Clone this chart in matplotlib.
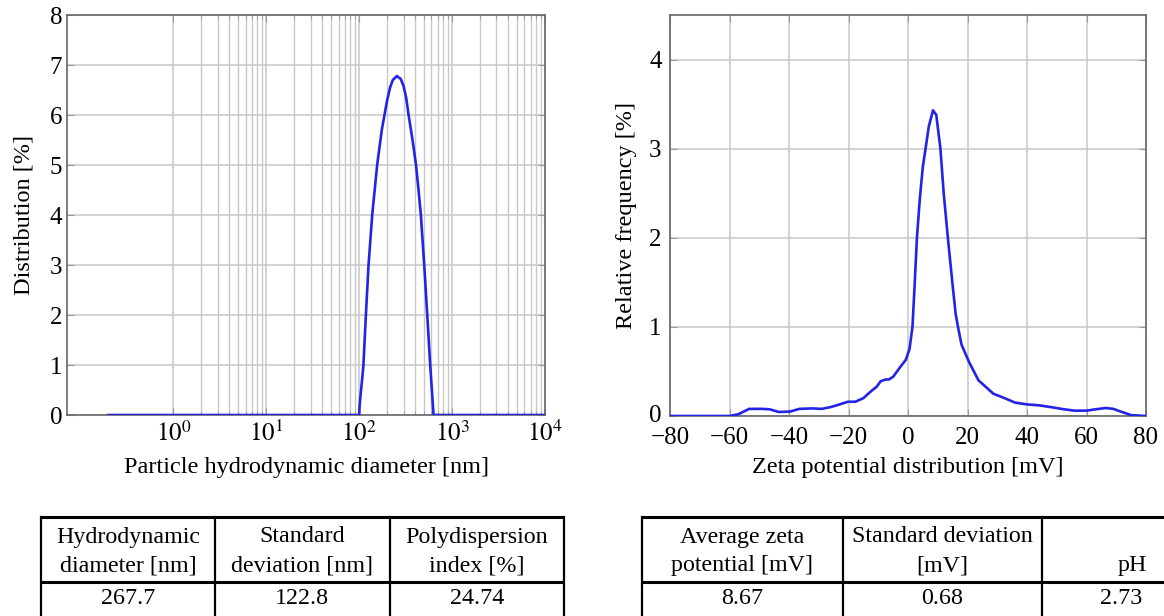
import matplotlib
matplotlib.use("Agg")
import matplotlib.pyplot as plt
import matplotlib.transforms as mtransforms
from matplotlib.ticker import FixedLocator, NullFormatter

plt.rcParams['font.family'] = ['Liberation Serif', 'DejaVu Serif']
plt.rcParams['mathtext.fontset'] = 'stix'

# ---------------- data ----------------
diameter_nm = [0.2, 100, 101, 104, 108, 111, 118, 126, 138, 156, 175, 187, 200, 215, 230, 254,
               280, 300, 320, 340, 375, 409, 435, 461, 501, 540, 581, 631, 10000]
distribution = [0, 0, 0.19, 0.45, 0.75, 1.0, 2.0, 3.0, 4.0, 5.0, 5.7, 6.0, 6.3, 6.55, 6.7, 6.78,
                6.72, 6.58, 6.35, 6.0, 5.5, 5.0, 4.5, 4.0, 3.0, 2.0, 1.0, 0, 0]

zeta_mV = [-80, -60, -57, -53.4, -49, -46.5, -43.4, -39.6, -36.5, -32, -29, -26, -23, -20.2,
           -17.7, -15, -12.7, -10.5, -9.2, -7.5, -6.4, -5, -2.6, -0.75, 0.5, 1.5, 2.2, 3.0,
           4.0, 5.0, 5.9, 7.0, 8.4, 9.5, 10.9, 12.0, 13.4, 14.9, 16.0, 16.8, 18, 20.6, 23.7,
           28.7, 32.5, 36, 40, 44, 48, 52.5, 56, 60, 63, 66.5, 69, 71.5, 75, 80]
rel_freq = [0, 0, 0.02, 0.08, 0.08, 0.075, 0.045, 0.05, 0.08, 0.085, 0.08, 0.1, 0.13, 0.16,
            0.16, 0.2, 0.27, 0.33, 0.39, 0.41, 0.41, 0.44, 0.55, 0.63, 0.75, 1.0, 1.45, 2.0,
            2.45, 2.8, 3.0, 3.25, 3.43, 3.38, 3.0, 2.5, 2.0, 1.5, 1.15, 1.0, 0.8, 0.6, 0.4,
            0.25, 0.2, 0.15, 0.13, 0.12, 0.1, 0.075, 0.06, 0.06, 0.075, 0.09, 0.08, 0.05, 0.01, 0]

size_headers = [["Hydrodynamic", "diameter [nm]"], ["Standard", "deviation [nm]"],
                ["Polydispersion", "index [%]"]]
size_values = ["267.7", "122.8", "24.74"]
zeta_headers = [["Average zeta", "potential [mV]"], ["Standard deviation", "[mV]"], ["", "pH"]]
zeta_values = ["8.67", "0.68", "2.73"]

# ---------------- figure ----------------
W, H = 1164, 616
fig = plt.figure(figsize=(W / 100, H / 100), dpi=100)

line_color = '#2323e6'
grid_color = '#c8c8c8'
spine_color = '#666666'
fs = 17


def px_axes(x0, y0, x1, y1):
    return fig.add_axes([x0 / W, 1 - y1 / H, (x1 - x0) / W, (y1 - y0) / H])


def style(ax):
    for s in ax.spines.values():
        s.set_color(spine_color)
        s.set_linewidth(1.2)
    ax.tick_params(which='both', direction='in', color='#999999', labelsize=fs + 1,
                   top=True, right=True)
    ax.tick_params(which='major', length=5)
    ax.tick_params(which='minor', length=3)


# left plot
ax1 = px_axes(67, 15, 545, 415)
ax1.set_xscale('log')
ax1.plot(diameter_nm, distribution, color=line_color, lw=1.9, zorder=3)
ax1.set_xlim(0.0715, 1e4)
ax1.set_ylim(0, 8)
ax1.xaxis.set_major_locator(FixedLocator([1, 10, 100, 1000, 10000]))
ax1.xaxis.set_minor_locator(FixedLocator([k * 10 ** e for e in range(0, 4) for k in range(2, 10)]))
ax1.xaxis.set_minor_formatter(NullFormatter())
ax1.set_xticklabels([r'$10^{0}$', r'$10^{1}$', r'$10^{2}$', r'$10^{3}$', r'$10^{4}$'])
ax1.set_yticks(range(0, 9))
ax1.grid(True, which='major', color=grid_color, lw=1.1)
ax1.grid(True, which='minor', axis='x', color=grid_color, lw=1.0)
ax1.set_axisbelow(True)
style(ax1)
ax1.tick_params(axis='x', pad=4)
ax1.set_xlabel('Particle hydrodynamic diameter [nm]', fontsize=fs + 0.5, labelpad=8)
ax1.set_ylabel('Distribution [%]', fontsize=fs + 0.5, labelpad=11)

# right plot
ax2 = px_axes(670, 15, 1146, 416)
ax2.plot(zeta_mV, rel_freq, color=line_color, lw=1.9, zorder=3)
ax2.set_xlim(-80, 80)
ax2.set_ylim(0, 4.5)
ax2.set_xticks(range(-80, 81, 20))
ax2.set_yticks(range(0, 5))
ax2.grid(True, which='major', color=grid_color, lw=1.1)
ax2.set_axisbelow(True)
style(ax2)
ax2.tick_params(axis='x', pad=8)
ax2.tick_params(axis='y', pad=6)
ax2.set_xlabel('Zeta potential distribution [mV]', fontsize=fs + 0.5, labelpad=6)
ax2.set_ylabel('Relative frequency [%]', fontsize=fs + 0.5, labelpad=9)
# lift the "0" y tick label a little so it clears the "-80" x tick label
zero_lbl = ax2.get_yticklabels()[0]
zero_lbl.set_transform(zero_lbl.get_transform() +
                       mtransforms.ScaledTranslation(0, 0.03, fig.dpi_scale_trans))

# ---------------- tables ----------------
tab = fig.add_axes([0, 0, 1, 1], zorder=-1)
tab.set_xlim(0, W)
tab.set_ylim(H, 0)
tab.axis('off')


def draw_table(edges, centers, headers, values, value_centers):
    top, mid, bot = 517, 582, 630
    x0, x1 = edges[0], edges[-1]
    tab.plot([x0, x1], [top, top], color='black', lw=2.2, solid_capstyle='butt')
    tab.plot([x0, x1], [mid, mid], color='black', lw=2.2, solid_capstyle='butt')
    for e in edges:
        tab.plot([e, e], [top, bot], color='black', lw=1.6)
    for c, (l1, l2) in zip(centers, headers):
        tab.text(c, 537, l1, ha='center', va='center', fontsize=fs + 0.3)
        tab.text(c, 566, l2, ha='center', va='center', fontsize=fs + 0.3)
    for c, v in zip(value_centers, values):
        tab.text(c, 598, v, ha='center', va='center', fontsize=fs + 0.3)


draw_table([41, 215, 390, 564], [128, 302, 477], size_headers, size_values, [128, 302, 477])
draw_table([642, 843, 1042, 1222], [742, 942, 1132], zeta_headers, zeta_values, [742, 942, 1121])

fig.savefig('out.png', dpi=100)
